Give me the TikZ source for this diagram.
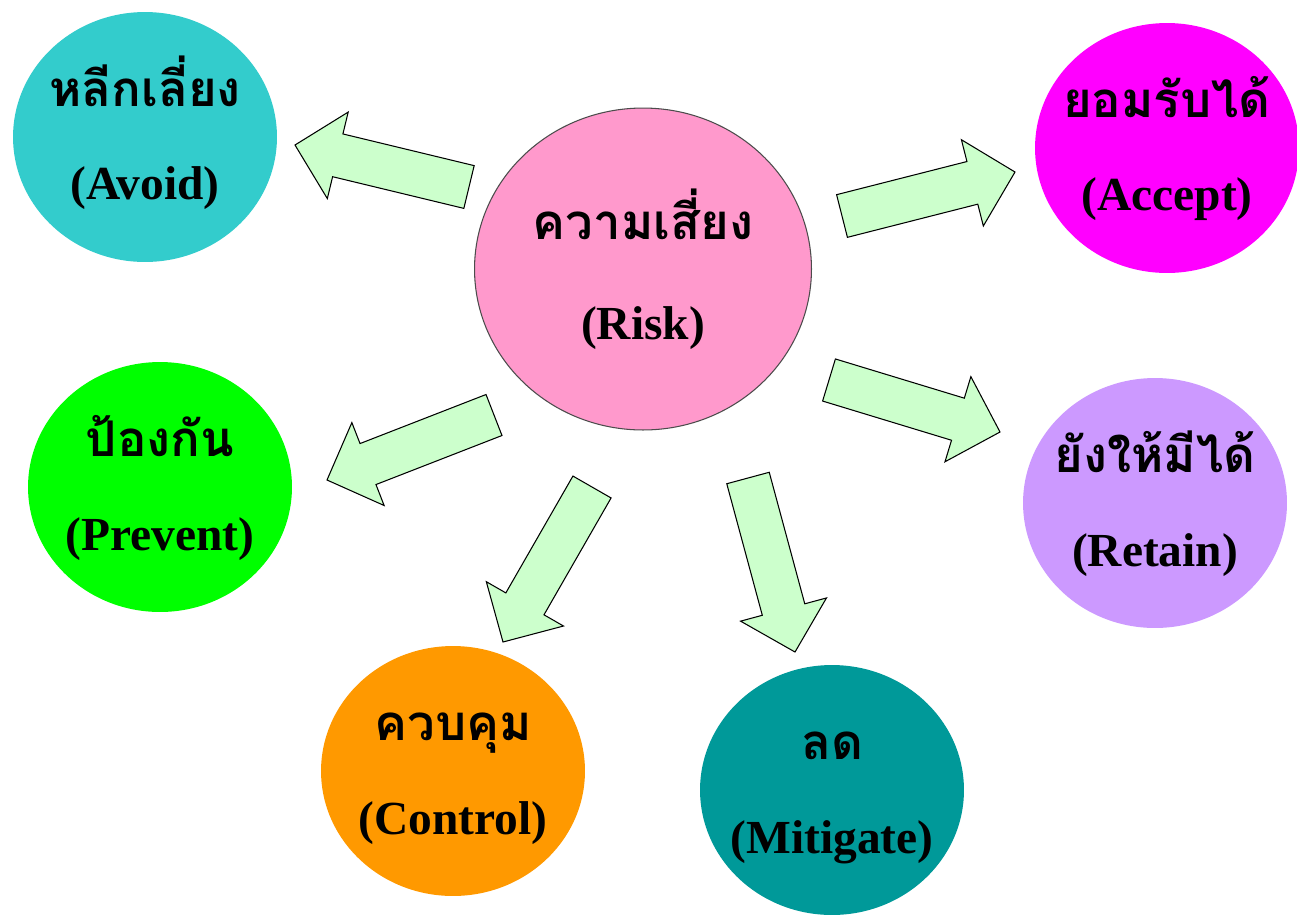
\documentclass[tikz,border=0pt]{standalone}
\usepackage{fontspec}
\setmainfont{Liberation Serif}
\newfontfamily\thaifont[Script=Thai]{Loma}
\usepackage{tikz}
\usetikzlibrary{calc, shapes.geometric}
\newcommand{\blockshaft}{0.44cm}
\newcommand{\blockhead}{0.89cm}
\newcommand{\blockheadlen}{0.88cm}
\newcommand{\thai}[1]{{\thaifont\fontsize{28pt}{28pt}\selectfont #1}}
\newcommand{\blockarrow}[2]{%
	\coordinate (j) at ($(#2)!\blockheadlen!(#1)$);
	\draw [blockarrow] ($(#1)!\blockshaft!90:(#2)$) -- ($(j)!\blockshaft!90:(#2)$) -- ($(j)!\blockhead!90:(#2)$) -- (#2)
		-- ($(j)!\blockhead!-90:(#2)$) -- ($(j)!\blockshaft!-90:(#2)$) -- ($(#1)!\blockshaft!-90:(#2)$) -- cycle;}
\definecolor{rosado}{RGB}{255,153,204}
\definecolor{turquesa}{RGB}{51,204,204}
\definecolor{fucsia}{RGB}{255,0,255}
\definecolor{verdecito}{RGB}{0,255,0}
\definecolor{lila}{RGB}{204,153,255}
\definecolor{naranjita}{RGB}{255,153,0}
\definecolor{verdeazul}{RGB}{0,153,153}
\definecolor{verdepalido}{RGB}{204,255,204}
\tikzset{bubble/.style={ellipse, inner sep=0pt, minimum width=5.28cm, minimum height=5cm},
	bubbletext/.style={inner sep=0pt, align=center, font=\fontsize{27pt}{53pt}\selectfont\bfseries, text height=2.52cm, text depth=0pt},
	blockarrow/.style={fill=verdepalido, draw=black, line width=0.6pt, line join=miter}}

\begin{document}
\begin{tikzpicture}[x=0.02cm, y=-0.02cm]
	
	\fill [white] (0,0) rectangle (1297,917);
	\useasboundingbox (0,0) rectangle (1297,917);
	% circles
	\node [bubble, fill=rosado, draw=black!70, line width=0.6pt, minimum width=6.74cm, minimum height=6.44cm,
		label={[bubbletext, text height=2.84cm]center:{\thai{ความเสี่ยง}\\[4pt](Risk)}}] (risk) at (643,269) {};
	\node [bubble, fill=turquesa, label={[bubbletext]center:{\thai{หลีกเลี่ยง}\\(Avoid)}}] (avoid) at (145,137) {};
	\node [bubble, fill=fucsia, label={[bubbletext]center:{\thai{ยอมรับได้}\\(Accept)}}] (accept) at (1167,148) {};
	\node [bubble, fill=verdecito, label={[bubbletext]center:{\thai{ป้องกัน}\\(Prevent)}}] (prevent) at (160,487) {};
	\node [bubble, fill=lila, label={[bubbletext]center:{\thai{ยังให้มีได้}\\(Retain)}}] (retain) at (1155,503) {};
	\node [bubble, fill=naranjita, label={[bubbletext]center:{\thai{ควบคุม}\\(Control)}}] (control) at (453,771) {};
	\node [bubble, fill=verdeazul, label={[bubbletext]center:{\thai{ลด}\\(Mitigate)}}] (mitigate) at (832,790) {};
	% arrows
	\coordinate (avoid-tail) at (469,187);
	\coordinate (avoid-tip) at (295,145);
	\coordinate (accept-tail) at (842,216);
	\coordinate (accept-tip) at (1015,172);
	\coordinate (prevent-tail) at (494,415);
	\coordinate (prevent-tip) at (327,480);
	\coordinate (retain-tail) at (829,380);
	\coordinate (retain-tip) at (1000,432);
	\coordinate (control-tail) at (592,487);
	\coordinate (control-tip) at (503,642);
	\coordinate (mitigate-tail) at (748,478);
	\coordinate (mitigate-tip) at (795,652);
	\foreach \n in {avoid,accept,prevent,retain,control,mitigate}
		\blockarrow{\n-tail}{\n-tip};
\end{tikzpicture}
\end{document}
